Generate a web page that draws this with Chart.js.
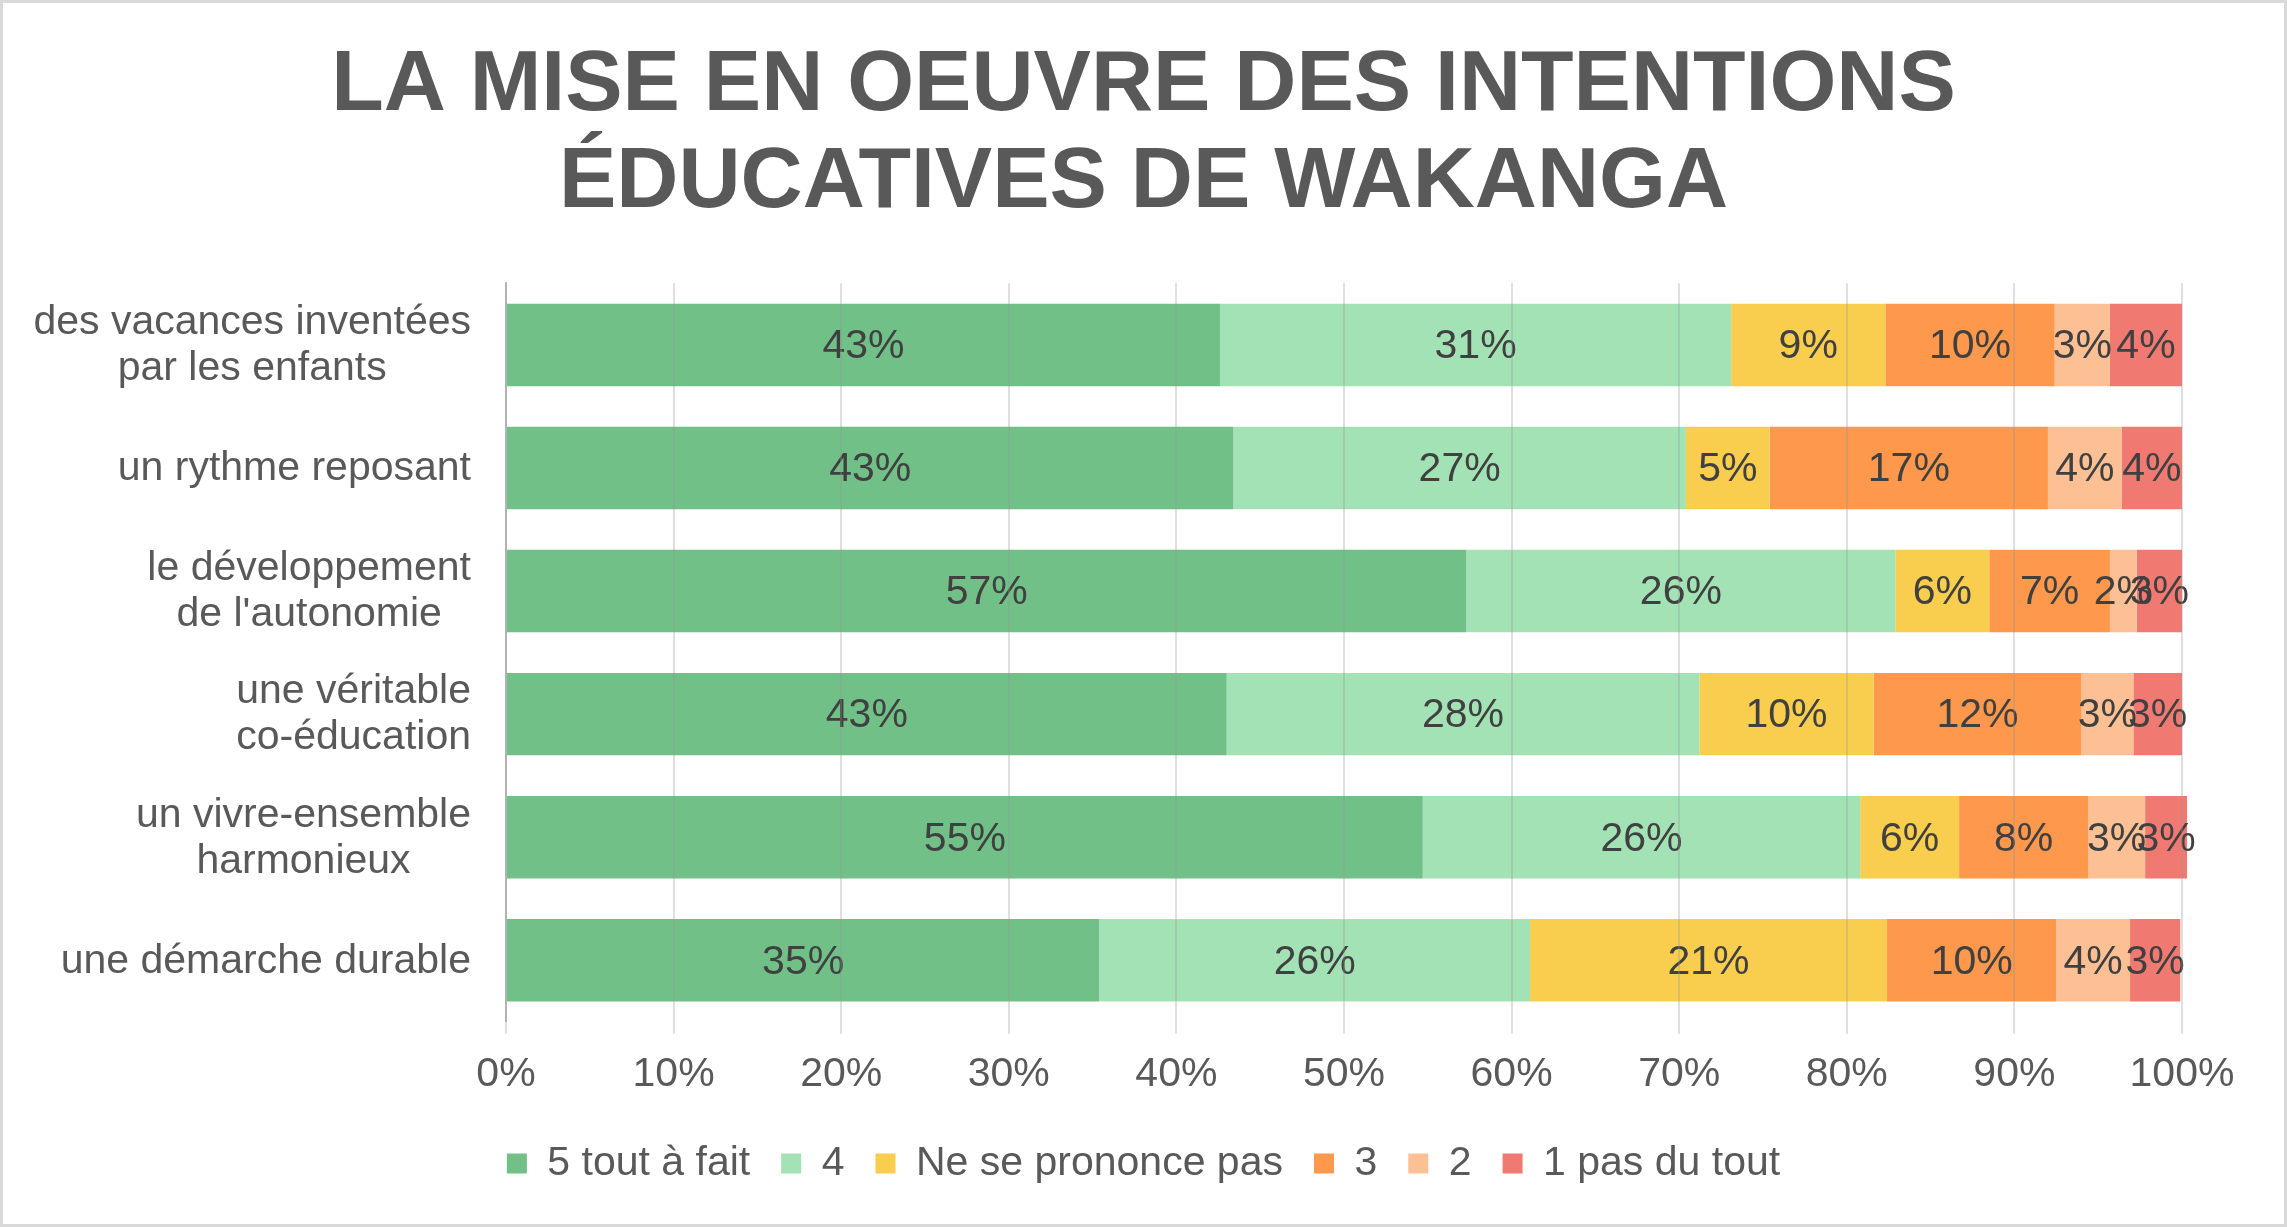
<!DOCTYPE html>
<html>
<head>
<meta charset="utf-8">
<script src="https://cdn.jsdelivr.net/npm/chart.js@4"></script>
<style>
  html, body { margin: 0; padding: 0; background: #fff; }
  #cadre { width: 2287px; height: 1227px; box-sizing: border-box; border: 3px solid #d9d9d9; position: relative; overflow: hidden; }
  #cadre canvas { position: absolute; left: 0; top: 0; }
</style>
</head>
<body>
<div id="cadre"><canvas id="grafico" width="2281" height="1221"></canvas></div>
<script>
// Catégories (une ligne par intention éducative)
const categories = [
  ["des vacances inventées", "par les enfants"],
  "un rythme reposant",
  ["le développement", "de l'autonomie"],
  ["une véritable", "co-éducation"],
  ["un vivre-ensemble", "harmonieux"],
  "une démarche durable"
];

// Séries (%)
const series5 = [42.6, 43.4, 57.3, 43.0, 54.7, 35.4];
const series4 = [30.5, 27.0, 25.6, 28.2, 26.1, 25.7];
const seriesNspp = [9.2, 5.0, 5.6, 10.4, 5.9, 21.3];
const series3 = [10.1, 16.6, 7.2, 12.4, 7.7, 10.1];
const series2 = [3.3, 4.4, 1.6, 3.1, 3.4, 4.4];
const series1 = [4.3, 3.6, 2.7, 2.9, 2.5, 3.0];

const seriesNames = ["5 tout à fait", "4", "Ne se prononce pas", "3", "2", "1 pas du tout"];
const xTicks = [0, 10, 20, 30, 40, 50, 60, 70, 80, 90, 100];

const couleurs = ["#70c088", "#a3e2b4", "#f9cd4d", "#fd984c", "#fdbf94", "#f07a72"];
const police = "'Liberation Sans', Arial, sans-serif";
const gris = "#595959";
const taille = 41;

const allSeries = [series5, series4, seriesNspp, series3, series2, series1];

// Étiquettes de pourcentage au centre de chaque segment
const etiquettes = {
  id: "etiquettes",
  afterDatasetsDraw(chart) {
    const ctx = chart.ctx;
    ctx.save();
    ctx.font = taille + "px " + police;
    ctx.fillStyle = "#404040";
    ctx.textAlign = "center";
    ctx.textBaseline = "middle";
    chart.data.datasets.forEach((ds, i) => {
      chart.getDatasetMeta(i).data.forEach((bar, j) => {
        const cx = (bar.x + bar.base) / 2;
        ctx.fillText(Math.round(ds.data[j]) + "%", cx, bar.y + 2);
      });
    });
    ctx.restore();
  }
};

// Libellés des catégories : bloc aligné à droite, lignes centrées entre elles
const libelles = {
  id: "libelles",
  afterDraw(chart) {
    const ctx = chart.ctx;
    const y = chart.scales.y;
    const droite = y.right - 35;
    const interligne = 46;
    ctx.save();
    ctx.font = taille + "px " + police;
    ctx.fillStyle = gris;
    ctx.textAlign = "center";
    ctx.textBaseline = "middle";
    categories.forEach((lab, i) => {
      const lignes = Array.isArray(lab) ? lab : [lab];
      const larg = Math.max(...lignes.map(l => ctx.measureText(l).width));
      const cx = droite - larg / 2;
      const cy = y.getPixelForTick(i) + 1;
      const y0 = cy - (lignes.length - 1) * interligne / 2;
      lignes.forEach((l, k) => ctx.fillText(l, cx, y0 + k * interligne));
    });
    ctx.restore();
  }
};

new Chart(document.getElementById("grafico"), {
  type: "bar",
  data: {
    labels: categories,
    datasets: allSeries.map((vals, i) => ({
      label: seriesNames[i],
      data: vals,
      backgroundColor: couleurs[i],
      borderWidth: 0,
      categoryPercentage: 1,
      barPercentage: 0.67,
      clip: false
    }))
  },
  options: {
    indexAxis: "y",
    responsive: false,
    animation: false,
    devicePixelRatio: 1,
    layout: { padding: { left: 30, right: 30, top: 0, bottom: 30 } },
    plugins: {
      title: {
        display: true,
        text: ["LA MISE EN OEUVRE DES INTENTIONS", "ÉDUCATIVES DE WAKANGA"],
        color: gris,
        font: { family: police, size: 86, weight: "bold", lineHeight: 1.13 },
        padding: { top: 35, bottom: 51 }
      },
      legend: {
        position: "bottom",
        labels: {
          color: gris,
          font: { family: police, size: taille },
          boxWidth: 20,
          boxHeight: 20,
          padding: 31
        }
      },
      tooltip: { enabled: false }
    },
    scales: {
      x: {
        stacked: true,
        min: 0,
        max: 100,
        afterBuildTicks: (scale) => { scale.ticks = xTicks.map(v => ({ value: v })); },
        ticks: {
          color: gris,
          font: { family: police, size: taille },
          padding: 16,
          callback: (v) => v + "%"
        },
        grid: { color: "rgba(150,150,150,0.3)", lineWidth: 2, tickLength: 12, z: 1 },
        border: { display: false },
        afterFit: (scale) => { scale.height -= 3; }
      },
      y: {
        stacked: true,
        ticks: { display: false },
        grid: { display: false },
        border: { display: true, color: "#bfbfbf", width: 2 },
        afterFit: (scale) => { scale.width = 473; }
      },
      // marge droite vide, pour garder le titre et la légende centrés sur la page
      yMarge: {
        type: "category",
        position: "right",
        ticks: { display: false },
        grid: { display: false },
        border: { display: false },
        afterFit: (scale) => { scale.width = 72; }
      }
    }
  },
  plugins: [etiquettes, libelles]
});
</script>
</body>
</html>
